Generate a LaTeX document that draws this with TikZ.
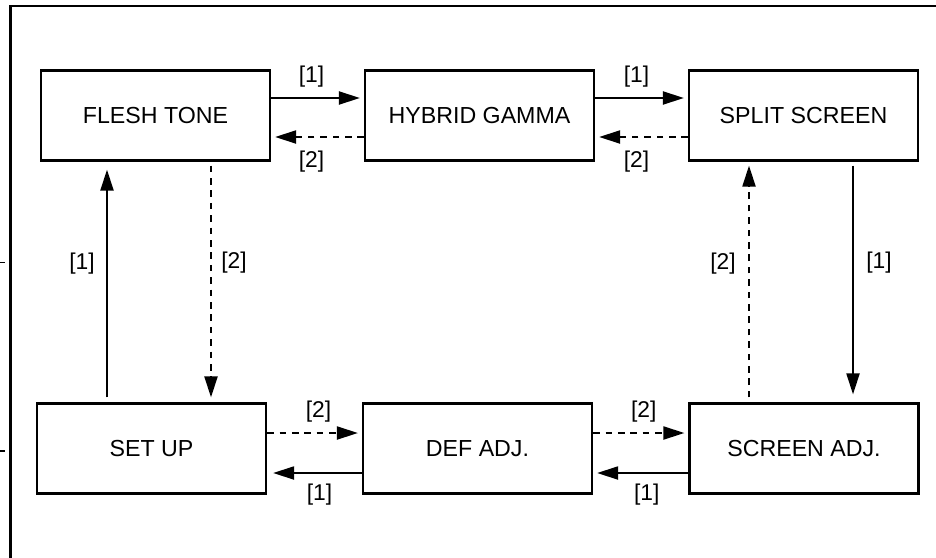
\documentclass[tikz,border=0pt]{standalone}
\usepackage{fontspec}
\setmainfont{Liberation Sans}
\usetikzlibrary{arrows.meta,positioning}

\begin{document}
\begin{tikzpicture}[x=0.5pt,y=-0.5pt,
  blk/.style={draw,line width=1.1pt,minimum width=114.5pt,minimum height=45pt,inner sep=0pt,font=\fontsize{11.6}{14}\selectfont},
  lbl/.style={font=\fontsize{11.4}{14}\selectfont,inner sep=0pt},
  fwd/.style={line width=1pt,shorten >=2pt,-{Triangle[length=10.5pt,width=6.5pt]}},
  bck/.style={fwd,dash pattern=on 3.3pt off 2.9pt}]
\useasboundingbox (0,0) rectangle (936,557);
% frame
\draw[line width=1.1pt] (10.5,560) -- (10.5,6) -- (940,6);
\draw[line width=0.5pt] (0,262) -- (5,262);
\draw[line width=1pt] (0,451) -- (5,451);
% modes
\node[blk] (flesh) at (155.5,115.5) {FLESH TONE};
\node[blk] (hybrid) at (479.5,115.5) {HYBRID GAMMA};
\node[blk] (split) at (803.5,115.5) {SPLIT SCREEN};
\node[blk] (setup) at (151.5,448.5) {SET UP};
\node[blk] (defadj) at (477.5,448.5) {DEF ADJ.};
\node[blk] (scradj) at (804,448.5) {SCREEN ADJ.};
% top row
\draw[fwd] ([yshift=8.75pt]flesh.east) -- ([yshift=8.75pt]hybrid.west)
  node[lbl,midway,yshift=10.5pt,xshift=-3pt] {[1]};
\draw[bck] ([yshift=-10.75pt]hybrid.west) -- ([yshift=-10.75pt]flesh.east)
  node[lbl,midway,yshift=-12.5pt,xshift=-3pt] {[2]};
\draw[fwd] ([yshift=8.75pt]hybrid.east) -- ([yshift=8.75pt]split.west)
  node[lbl,midway,yshift=10.5pt,xshift=-2.5pt] {[1]};
\draw[bck] ([yshift=-10.75pt]split.west) -- ([yshift=-10.75pt]hybrid.east)
  node[lbl,midway,yshift=-12.5pt,xshift=-2.5pt] {[2]};
% bottom row
\draw[bck] ([yshift=7.75pt]setup.east) -- ([yshift=7.75pt]defadj.west)
  node[lbl,midway,yshift=10.5pt,xshift=2pt] {[2]};
\draw[fwd,shorten >=3pt] ([yshift=-12.25pt]defadj.west) -- ([yshift=-12.25pt]setup.east)
  node[lbl,midway,yshift=-11pt,xshift=2.5pt] {[1]};
\draw[bck] ([yshift=7.75pt]defadj.east) -- ([yshift=7.75pt]scradj.west)
  node[lbl,midway,yshift=10.5pt,xshift=1.5pt] {[2]};
\draw[fwd] ([yshift=-12.25pt]scradj.west) -- ([yshift=-12.25pt]defadj.east)
  node[lbl,midway,yshift=-11pt,xshift=3pt] {[1]};
% columns
\coordinate (lup) at (107,0);
\coordinate (ldn) at (211,0);
\coordinate (rup) at (749,0);
\coordinate (rdn) at (853,0);
\draw[fwd,shorten >=4pt,shorten <=2.5pt] (lup |- setup.north) -- (lup |- flesh.south)
  node[lbl,pos=0.578,xshift=-12.5pt] {[1]};
\draw[bck,shorten >=2.5pt,shorten <=2pt] (ldn |- flesh.south) -- (ldn |- setup.north)
  node[lbl,pos=0.42,xshift=11.5pt] {[2]};
\draw[bck,shorten >=2pt,shorten <=2.5pt] (rup |- scradj.north) -- (rup |- split.south)
  node[lbl,pos=0.578,xshift=-13pt] {[2]};
\draw[fwd,shorten >=4pt,shorten <=2pt] (rdn |- split.south) -- (rdn |- scradj.north)
  node[lbl,pos=0.42,xshift=13pt] {[1]};
\end{tikzpicture}
\end{document}
